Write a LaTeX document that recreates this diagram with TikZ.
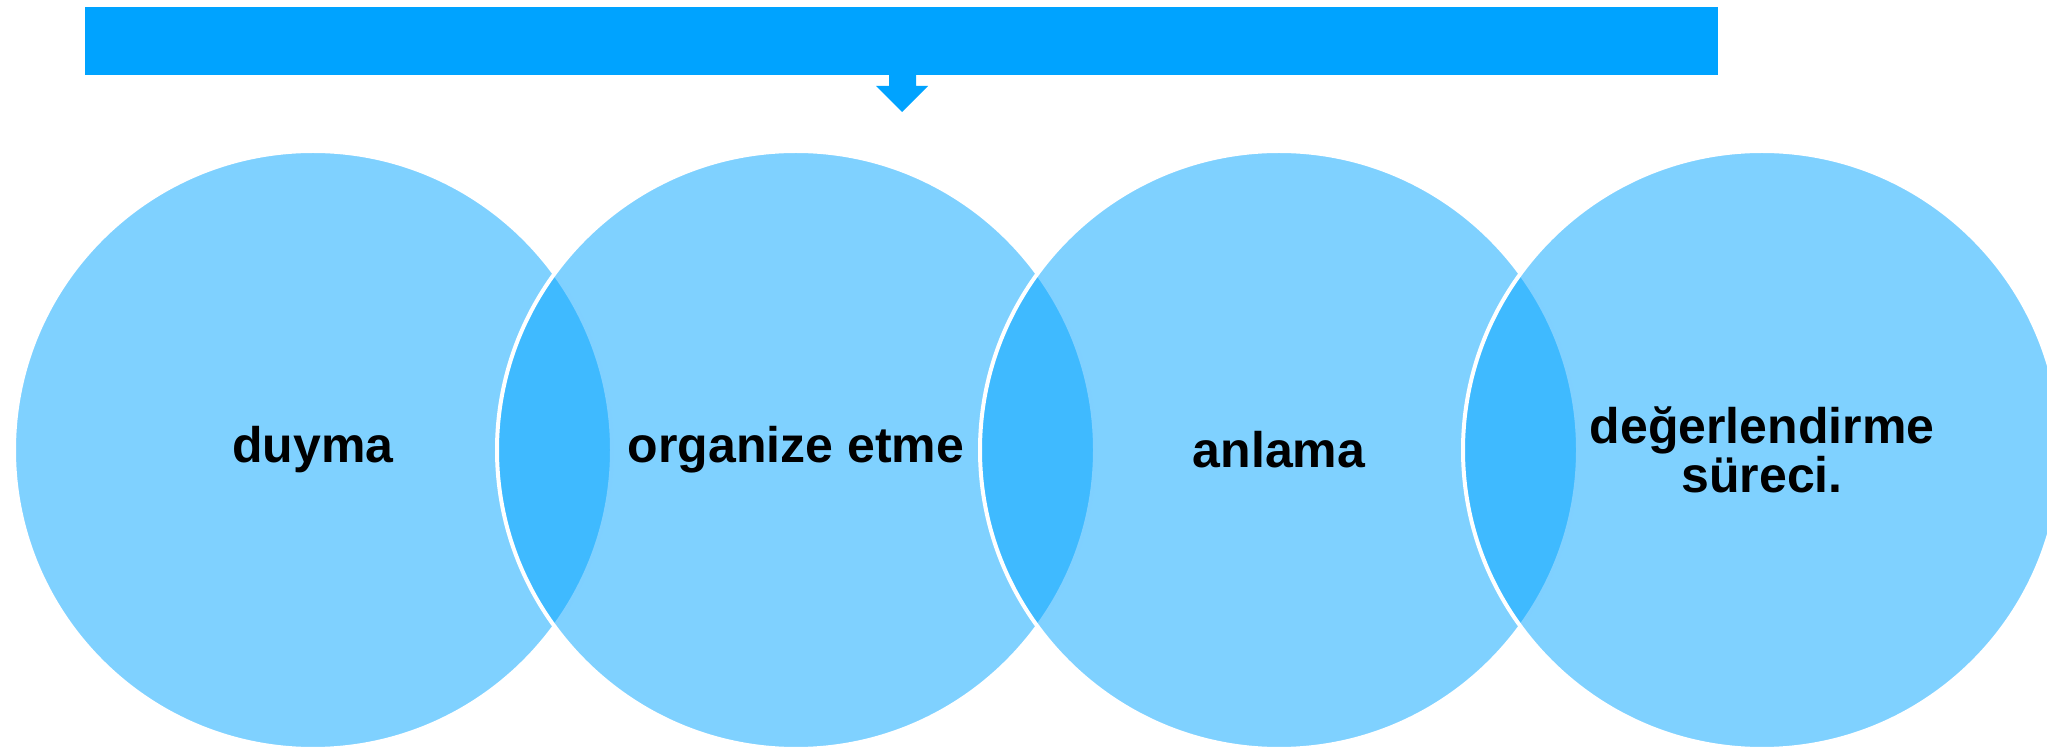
\documentclass[tikz,border=0pt]{standalone}
\usepackage{fontspec}
\setmainfont{Liberation Sans}
\definecolor{barblue}{HTML}{00A3FF}
\begin{document}
\begin{tikzpicture}[x=0.5pt,y=-0.5pt,
  bubble/.style={circle, inner sep=0pt, minimum size=299pt, fill=barblue, fill opacity=0.5,
    draw=white, draw opacity=1, line width=2pt, text opacity=1, text=black,
    font=\bfseries\fontsize{25}{24.5}\selectfont, align=center},
  topbar/.style={rectangle, fill=barblue, draw=none, inner sep=0pt, anchor=north west,
    minimum width=816.5pt, minimum height=34pt}]
\useasboundingbox (0,0) rectangle (2047,748);
\node[topbar] (bar) at (85,7) {};
\fill[barblue] (889,75) -- (916,75) -- (916,86) -- (928,86) -- (902,112) coordinate (tip) -- (876,86) -- (889,86) -- cycle;
\node[bubble] (c1) at (313,450) {duyma};
\node[bubble] (c2) at (796,450) {organize etme};
\node[bubble] (c3) at (1279,450) {anlama};
\node[bubble] (c4) at (1762,450) {değerlendirme\\süreci.};
\end{tikzpicture}
\end{document}
